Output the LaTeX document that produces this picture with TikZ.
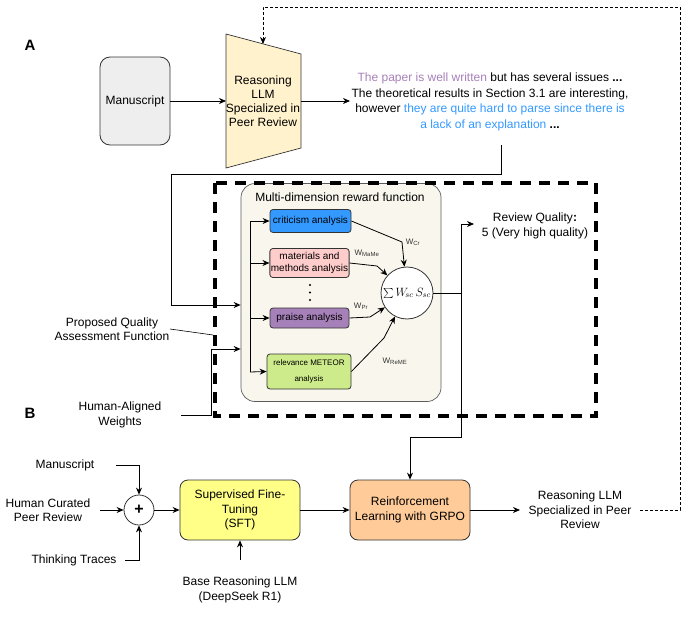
\documentclass[tikz,border=0pt]{standalone}
\usepackage{fontspec}
\setmainfont{Liberation Sans}
\usetikzlibrary{arrows.meta}
\definecolor{msfill}{HTML}{EEEEEE}
\definecolor{llmfill}{HTML}{FFF2CC}
\definecolor{rewfill}{HTML}{F9F7ED}
\definecolor{critfill}{HTML}{3399FF}
\definecolor{matfill}{HTML}{FFCCCC}
\definecolor{praisefill}{HTML}{A680B8}
\definecolor{relfill}{HTML}{CDEB8B}
\definecolor{sftfill}{HTML}{FFFF88}
\definecolor{rlfill}{HTML}{FFCC99}
\definecolor{purp}{HTML}{A680B8}
\definecolor{blu}{HTML}{3399FF}
\definecolor{edge}{HTML}{333333}
\tikzset{
  box/.style={draw=edge, rounded corners=8pt, align=center, inner sep=1pt},
  smallbox/.style={draw=edge, rounded corners=3pt, align=center, inner sep=1pt, font=\fontsize{10}{12}\selectfont},
  wlabel/.style={font=\fontsize{8}{9}\selectfont, text=edge},
  lbl/.style={align=center},
  arr/.style={-{Stealth[length=7pt,width=6pt]}},
}
\begin{document}
\begin{tikzpicture}[x=1pt,y=-1pt, font=\fontsize{12}{14.5}\selectfont, line width=0.8pt]
\useasboundingbox (0,0) rectangle (689,621);

% ---------- Part A ----------
\node[font=\fontsize{15}{15}\selectfont\bfseries] (A) at (30,45) {A};
\node[font=\fontsize{15}{15}\selectfont\bfseries] (B) at (30,413) {B};

\node[box, fill=msfill, draw=edge, rounded corners=10pt, minimum width=70, minimum height=88] (ms) at (135,101) {Manuscript};

\draw[draw=edge, fill=llmfill, line width=0.7pt] (226,34) -- (301,54) -- (301,148) -- (226,168) -- cycle;
\node[lbl, font=\fontsize{12}{14}\selectfont] (llm) at (263,101) {Reasoning\\LLM\\Specialized in\\Peer Review};
\coordinate (llmW) at (226,101);
\coordinate (llmE) at (301,101);
\coordinate (llmN) at (263,44);

\node[lbl, font=\fontsize{12}{15.7}\selectfont] (rev) at (490,102) {\textcolor{purp}{The paper is well written} but has several issues \textbf{...}\\
The theoretical results in Section 3.1 are interesting,\\
however \textcolor{blu}{they are quite hard to parse since there is}\\
\textcolor{blu}{a lack of an explanation} \textbf{...}};
\coordinate (revW) at (350,101);
\coordinate (revS) at (501,145);

\draw[arr] (ms.east) -- (llmW);
\draw[arr] (llmE) -- (revW);

% reward function box
\node[draw=edge!80, fill=rewfill, rounded corners=14pt, minimum width=200, minimum height=218, line width=0.7pt] (rew) at (341,292.5) {};
\node (rewt) at (340,197) {Multi-dimension reward function};

\node[smallbox, fill=critfill, minimum width=81, minimum height=23] (crit) at (310.5,221) {criticism analysis};
\node[smallbox, fill=matfill, minimum width=79, minimum height=29] (mat) at (309.5,263) {materials and\\methods analysis};
\node[smallbox, fill=praisefill, minimum width=79, minimum height=20] (praise) at (309.5,318) {praise analysis};
\node[smallbox, fill=relfill, minimum width=84, minimum height=35, font=\fontsize{8}{16}\selectfont] (rel) at (309,371.5) {relevance METEOR\\analysis};

\fill (310,285) circle (1.1) (310,292.5) circle (1.1) (310,300) circle (1.1);

\coordinate (tTop) at (250,221);
\coordinate (tBot) at (250,372);
\draw (tTop) -- (tBot);
\draw[arr] (tTop) -- (crit.west);
\draw[arr] (250,263) -- (mat.west);
\draw[arr] (250,318) -- (praise.west);
\draw[arr] (tBot) -- (rel.west);

\node[draw=edge, fill=white, circle, minimum size=52, inner sep=0pt, font=\fontsize{12}{14}\selectfont] (sum) at (407,293) {$\sum W_{\!sc}\,S_{sc}$};

\draw[arr] (crit.east) -- (402,242) -- (sum);
\draw[arr] (mat.east) -- (377,266) -- (sum);
\draw[arr] (praise.east) -- (370,317) -- (sum);
\draw[arr] (rel.east) -- (384,338) -- (sum);

\node[wlabel] (wcr) at (413,242) {W\textsubscript{Cr}};
\node[wlabel] (wmm) at (367,253) {W\textsubscript{MaMe}};
\node[wlabel] (wpr) at (361,306) {W\textsubscript{Pr}};
\node[wlabel] (wre) at (395,361) {W\textsubscript{ReME}};

% output of sum
\coordinate (sj) at (461,293);
\draw (sum.east) -- (sj);
\draw[arr] (sj) |- (474,224);
\node[lbl] (rq) at (535,226) {Review Quality\textbf{:}\\5 (Very high quality)};

% input from review text
\draw[arr] (revS) -- (501,174) -- (171,174) -- (171,305) -- (rew.west |- 0,305);

% labels on left
\node[lbl] (pqa) at (112,329) {Proposed Quality\\Assessment Function};
\draw[line width=0.6pt] (170,329) -- (213,335);
\node[lbl] (haw) at (120,415) {Human-Aligned\\Weights};
\draw[arr] (181,415) -- (211,415) -- (211,349) -- (rew.west |- 0,349);

% dashed big box
\draw[line width=3.2pt, dash pattern=on 11pt off 8pt] (215,183) rectangle (596,416);

% ---------- Part B ----------
\node[draw=edge, fill=white, circle, minimum size=30, inner sep=0pt, font=\fontsize{16}{16}\selectfont\bfseries] (plus) at (139,510) {+};
\node[lbl] (bms) at (65,465) {Manuscript};
\node[lbl] (hcp) at (48,510) {Human Curated\\Peer Review};
\node[lbl] (tt) at (74,560) {Thinking Traces};
\draw[arr] (116,465) -| (plus.north);
\draw[arr] (100,510) -- (plus.west);
\draw[arr] (125,560) -| (plus.south);

\node[box, fill=sftfill, minimum width=120, minimum height=60] (sft) at (240,510) {Supervised Fine-\\Tuning\\(SFT)};
\node[box, fill=rlfill, minimum width=120, minimum height=60] (rl) at (410,510) {Reinforcement\\Learning with GRPO};
\node[lbl] (base) at (240,590) {Base Reasoning LLM\\(DeepSeek R1)};
\node[lbl] (out) at (580,510) {Reasoning LLM\\Specialized in Peer\\Review};

\draw[arr] (plus.east) -- (sft.west);
\draw[arr] (240,560) -- (sft.south);
\draw[arr] (sft.east) -- (rl.west);
\draw[arr] (rl.east) -- (520,510);
\draw[arr] (sj) -- (461,437) -| (rl.north);

% feedback dashed
\draw[arr, line width=0.7pt, dash pattern=on 3pt off 2pt] (640,510) -- (680,510) -- (680,7) -- (263,7) -- (llmN);

\end{tikzpicture}
\end{document}
